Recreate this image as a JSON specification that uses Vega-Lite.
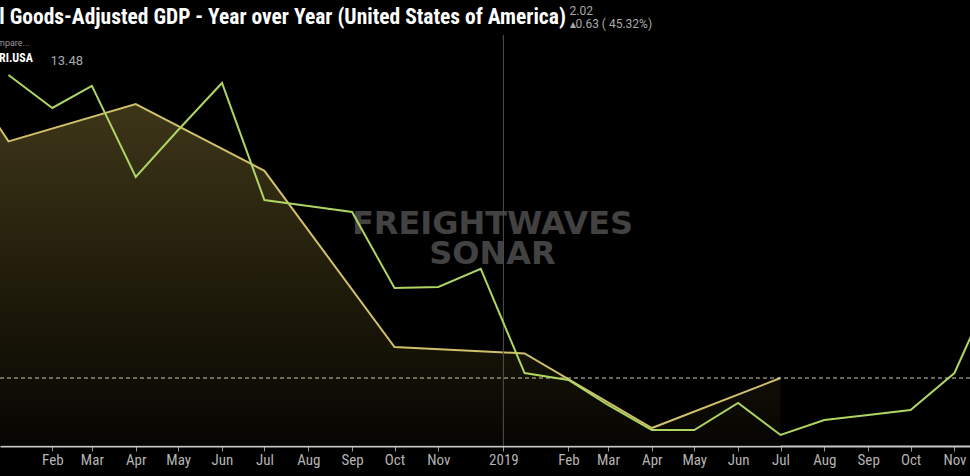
{
  "$schema": "https://vega.github.io/schema/vega-lite/v6.json",
  "autosize": "none",
  "width": 970,
  "height": 411,
  "padding": {"top": 35, "bottom": 30, "left": 0, "right": 0},
  "background": "#000000",
  "title": {
    "text": "Real Goods-Adjusted GDP - Year over Year (United States of America)",
    "anchor": "start", "frame": "group", "orient": "top", "offset": 10,
    "baseline": "alphabetic", "dx": -33, "dy": 51,
    "font": "Roboto Condensed, Liberation Sans Narrow, Roboto, sans-serif", "fontSize": 21.5, "fontWeight": "bold", "color": "#ffffff"
  },
  "datasets": {
    "gdp": [
      {"date": "2017-10-01", "value": 7.5},
      {"date": "2018-01-01", "value": 5.0},
      {"date": "2018-04-01", "value": 5.47},
      {"date": "2018-07-01", "value": 4.63},
      {"date": "2018-10-01", "value": 2.41},
      {"date": "2019-01-01", "value": 2.33},
      {"date": "2019-04-01", "value": 1.39},
      {"date": "2019-07-01", "value": 2.02}
    ],
    "compare": [
      {"date": "2018-01-01", "value": 29.94},
      {"date": "2018-02-01", "value": 27.28},
      {"date": "2018-03-01", "value": 29.06},
      {"date": "2018-04-01", "value": 21.71},
      {"date": "2018-05-01", "value": 25.5},
      {"date": "2018-06-01", "value": 29.3},
      {"date": "2018-07-01", "value": 19.85},
      {"date": "2018-08-01", "value": 19.37},
      {"date": "2018-09-01", "value": 18.89},
      {"date": "2018-10-01", "value": 12.75},
      {"date": "2018-11-01", "value": 12.83},
      {"date": "2018-12-01", "value": 14.29},
      {"date": "2019-01-01", "value": 5.89},
      {"date": "2019-02-01", "value": 5.33},
      {"date": "2019-03-01", "value": 3.31},
      {"date": "2019-04-01", "value": 1.29},
      {"date": "2019-05-01", "value": 1.29},
      {"date": "2019-06-01", "value": 3.47},
      {"date": "2019-07-01", "value": 0.89},
      {"date": "2019-08-01", "value": 2.1},
      {"date": "2019-09-01", "value": 2.5},
      {"date": "2019-10-01", "value": 2.91},
      {"date": "2019-11-01", "value": 5.89},
      {"date": "2019-12-01", "value": 13.48}
    ]
  },
  "layer": [
    {
      "layer": [
        {
          "data": {"name": "gdp"},
          "mark": {
            "type": "area", "clip": true,
            "line": {"color": "#cfc06a", "strokeWidth": 2},
            "color": {
              "gradient": "linear", "x1": 1, "y1": 1, "x2": 1, "y2": 0,
              "stops": [
                {"offset": 0, "color": "#080703"},
                {"offset": 0.3, "color": "#2b250d"},
                {"offset": 0.6, "color": "#4f4520"},
                {"offset": 1, "color": "#7a6a2c"}
              ]
            }
          },
          "encoding": {
            "x": {
              "field": "date", "type": "temporal",
              "scale": {"type": "utc", "domain": [{"year": 2017, "month": 12, "date": 26, "utc": true}, {"year": 2019, "month": 11, "date": 12, "utc": true}]},
              "axis": {
                "values": [
                  {"year": 2018, "month": 2, "date": 1, "utc": true},
                  {"year": 2018, "month": 3, "date": 1, "utc": true},
                  {"year": 2018, "month": 4, "date": 1, "utc": true},
                  {"year": 2018, "month": 5, "date": 1, "utc": true},
                  {"year": 2018, "month": 6, "date": 1, "utc": true},
                  {"year": 2018, "month": 7, "date": 1, "utc": true},
                  {"year": 2018, "month": 8, "date": 1, "utc": true},
                  {"year": 2018, "month": 9, "date": 1, "utc": true},
                  {"year": 2018, "month": 10, "date": 1, "utc": true},
                  {"year": 2018, "month": 11, "date": 1, "utc": true},
                  {"year": 2018, "month": 12, "date": 17, "utc": true},
                  {"year": 2019, "month": 2, "date": 1, "utc": true},
                  {"year": 2019, "month": 3, "date": 1, "utc": true},
                  {"year": 2019, "month": 4, "date": 1, "utc": true},
                  {"year": 2019, "month": 5, "date": 1, "utc": true},
                  {"year": 2019, "month": 6, "date": 1, "utc": true},
                  {"year": 2019, "month": 7, "date": 1, "utc": true},
                  {"year": 2019, "month": 8, "date": 1, "utc": true},
                  {"year": 2019, "month": 9, "date": 1, "utc": true},
                  {"year": 2019, "month": 10, "date": 1, "utc": true},
                  {"year": 2019, "month": 11, "date": 1, "utc": true}
                ],
                "labelExpr": "utcmonth(datum.value) == 11 ? '' + (utcyear(datum.value) + 1) : utcFormat(datum.value, '%b')",
                "labelFlush": false, "labelOverlap": false, "labelBound": false,
                "labelColor": "#b4b4b4", "labelFontSize": 15, "labelFont": "Roboto Condensed, Liberation Sans Narrow, Roboto, sans-serif", "labelPadding": 1,
                "tickColor": "#9a9a9a", "tickSize": 5, "domainColor": "#c8c8c8", "domainWidth": 2, "grid": false,
                "title": ["FREIGHTWAVES", "SONAR"],
                "titleX": 492, "titleY": -213, "titleAlign": "center", "titleBaseline": "alphabetic",
                "titleLineHeight": 30, "titleFont": "DejaVu Sans", "titleFontSize": 32, "titleFontWeight": "bold", "titleColor": "#424242"
              }
            },
            "y": {
              "field": "value", "type": "quantitative",
              "scale": {"domain": [1.164, 6.34], "zero": false, "nice": false},
              "axis": {
                "orient": "left", "labels": false, "ticks": false, "domain": false, "grid": false,
                "title": ["2.02", "▴0.63 ( 45.32%)"],
                "titleAngle": 0, "titleX": 569, "titleY": -21, "titleAlign": "left", "titleBaseline": "alphabetic",
                "titleLineHeight": 13, "titleFont": "Roboto", "titleFontSize": 12, "titleFontWeight": "normal", "titleColor": "#a8a8a8"
              }
            },
            "y2": {"datum": 1.164}
          }
        },
        {
          "data": {"values": [{}]},
          "mark": {"type": "rule", "strokeDash": [4, 3], "color": "#cfcbb0", "strokeWidth": 1},
          "encoding": {"y": {"datum": 2.02, "type": "quantitative"}}
        },
        {
          "data": {"values": [{}]},
          "mark": {"type": "rule", "color": "#505050", "strokeWidth": 1},
          "encoding": {"x": {"datum": {"year": 2018, "month": 12, "date": 17, "utc": true}, "type": "temporal"}}
        }
      ]
    },
    {
      "data": {"name": "compare"},
      "mark": {"type": "line", "strokeWidth": 2, "clip": true},
      "encoding": {
        "x": {"field": "date", "type": "temporal"},
        "y": {
          "field": "value", "type": "quantitative",
          "scale": {"domain": [0, 33.17], "nice": false},
          "axis": {
            "orient": "right", "labels": false, "ticks": false, "domain": false, "grid": false,
            "title": "13.48",
            "titleAngle": 0, "titleX": -920, "titleY": 29, "titleAlign": "left", "titleBaseline": "alphabetic",
            "titleFont": "Roboto", "titleFontSize": 13, "titleFontWeight": "normal", "titleColor": "#a8a8a8"
          }
        },
        "color": {
          "datum": "RI.USA",
          "scale": {"range": ["#aed462"]},
          "legend": {
            "title": "Compare...", "orient": "none", "legendX": -14, "legendY": 4, "padding": 0,
            "titleFont": "Roboto", "titleFontSize": 9, "titleFontWeight": "normal", "titleColor": "#9a9a9a", "titlePadding": 4,
            "labelFont": "Roboto Condensed, Liberation Sans Narrow, Roboto, sans-serif", "labelFontSize": 12, "labelFontWeight": "bold", "labelColor": "#ffffff",
            "symbolOpacity": 0, "symbolSize": 1, "labelOffset": 1
          }
        }
      }
    }
  ],
  "resolve": {"scale": {"y": "independent"}, "axis": {"y": "independent"}},
  "config": {"view": {"stroke": null}}
}
